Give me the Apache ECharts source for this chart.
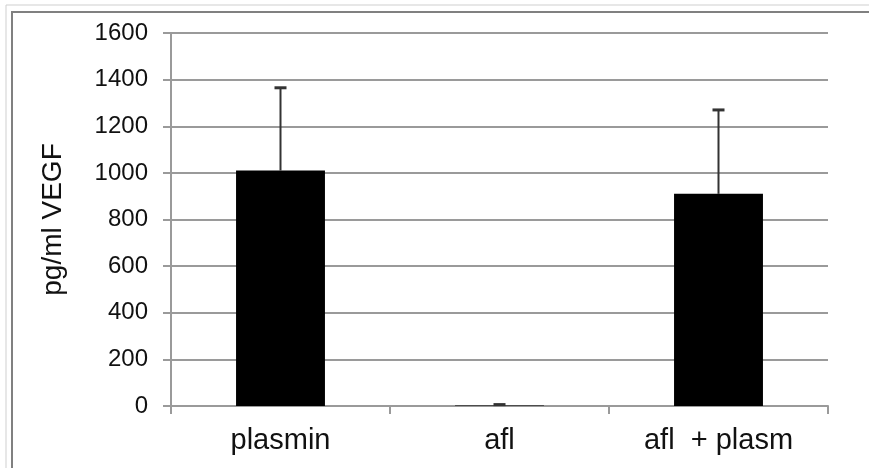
<!DOCTYPE html>
<html><head><meta charset="utf-8">
<script src="https://cdn.jsdelivr.net/npm/echarts@6/dist/echarts.min.js"></script>
<style>html,body{margin:0;padding:0;background:#fff}#c{width:869px;height:468px}</style>
</head><body><div id="c"></div>
<script>
const categories = ['plasmin', 'afl', 'afl  + plasm'];
const values = [1010, 2, 910];
const errors = [355, 4, 360];
const yTicks = [0, 200, 400, 600, 800, 1000, 1200, 1400, 1600];
const yTitle = 'pg/ml VEGF';

const chart = echarts.init(document.getElementById('c'));
const font = '"Liberation Sans", Arial, sans-serif';
chart.setOption({
  animation: false,
  backgroundColor: '#fff',
  graphic: [
    {type: 'rect', shape: {x: 6, y: 5, width: 900, height: 500}, style: {fill: 'none', stroke: '#cfcfcf', lineWidth: 1}, silent: true},
    {type: 'polyline', shape: {points: [[12, 500], [12, 12], [900, 12]]}, style: {fill: 'none', stroke: '#808080', lineWidth: 2}, silent: true}
  ],
  grid: {left: 171, right: 41, top: 33, bottom: 62, containLabel: false},
  xAxis: {
    type: 'category', data: categories,
    axisLine: {lineStyle: {color: '#9a9a9a', width: 2}},
    axisTick: {show: true, length: 8, alignWithLabel: false, lineStyle: {color: '#9a9a9a', width: 2}},
    axisLabel: {color: '#111', fontSize: 29, fontFamily: font, margin: 20, interval: 0}
  },
  yAxis: {
    type: 'value', min: yTicks[0], max: yTicks[yTicks.length - 1], interval: 200,
    name: yTitle, nameLocation: 'middle', nameGap: 104, nameRotate: 90,
    nameTextStyle: {color: '#111', fontSize: 28, fontFamily: font},
    axisLine: {show: true, lineStyle: {color: '#9a9a9a', width: 2}},
    axisTick: {show: true, length: 8, lineStyle: {color: '#9a9a9a', width: 2}},
    axisLabel: {color: '#111', fontSize: 24, fontFamily: font, margin: 23, formatter: v => String(v)},
    splitLine: {show: true, lineStyle: {color: '#9a9a9a', width: 2}}
  },
  series: [
    {type: 'bar', data: values, barWidth: '40.6%', itemStyle: {color: '#000'}, z: 3},
    {type: 'custom', z: 4,
      data: values.map((v, i) => [i, v, v + errors[i]]),
      renderItem: function (params, api) {
        const p0 = api.coord([api.value(0), api.value(1)]);
        const p1 = api.coord([api.value(0), api.value(2)]);
        const hw = 6;
        return {type: 'group', children: [
          {type: 'line', shape: {x1: p0[0], y1: p0[1], x2: p1[0], y2: p1[1]}, style: {stroke: '#333', lineWidth: 2}},
          {type: 'line', shape: {x1: p1[0] - hw, y1: p1[1], x2: p1[0] + hw, y2: p1[1]}, style: {stroke: '#333', lineWidth: 3}}
        ]};
      }
    }
  ]
});
</script></body></html>
